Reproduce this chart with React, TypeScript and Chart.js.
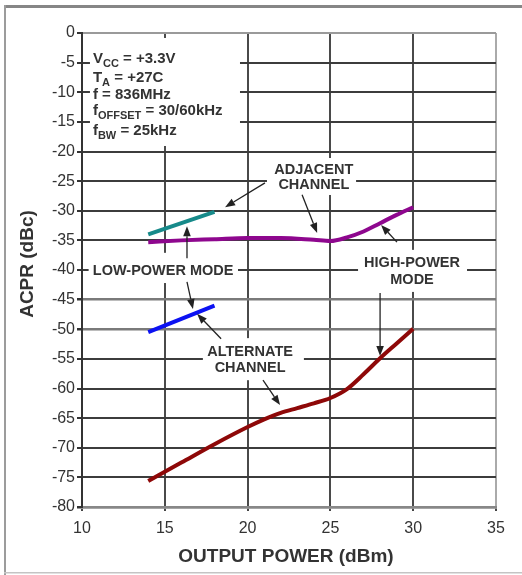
import React, { useEffect, useRef } from 'react';
import { Chart, registerables } from 'chart.js';

Chart.register(...registerables);

// ---- data ----
const xTickValues = [10, 15, 20, 25, 30, 35];
const yTickValues = [0, -5, -10, -15, -20, -25, -30, -35, -40, -45, -50, -55, -60, -65, -70, -75, -80];

const adjLowX = [14, 18];
const adjLowY = [-34, -30.2];

const altLowX = [14, 18];
const altLowY = [-50.5, -46];

const adjHighX = [14, 16, 18, 20, 22, 24, 25, 26, 27, 28, 29, 30];
const adjHighY = [-35.3, -35.0, -34.8, -34.6, -34.6, -34.9, -35.1, -34.5, -33.5, -32.1, -30.7, -29.4];

const altHighX = [14, 16, 18, 20, 21, 22, 23, 24, 25, 26, 27, 28, 29, 30];
const altHighY = [-75.6, -72.5, -69.4, -66.5, -65.2, -64.1, -63.3, -62.5, -61.6, -60.1, -57.6, -54.9, -52.4, -49.9];

const xTitle = 'OUTPUT POWER (dBm)';
const yTitle = 'ACPR (dBc)';

const infoLines: [string, string, string][] = [
  ['V', 'CC', ' = +3.3V'],
  ['T', 'A', ' = +27C'],
  ['f = 836MHz', '', ''],
  ['f', 'OFFSET', ' = 30/60kHz'],
  ['f', 'BW', ' = 25kHz'],
];

const labelTexts = [
  ['ADJACENT', 'CHANNEL'],
  ['LOW-POWER MODE'],
  ['ALTERNATE', 'CHANNEL'],
  ['HIGH-POWER', 'MODE'],
];

// ---- annotation layout (data units) ----
const infoBox = { x0: 10.48, x1: 19.54, y0: -0.84, y1: -19.07 };
const infoTextX = 10.66;
const infoBaselines = [-5.06, -8.27, -11.14, -13.84, -17.2];

const labelLayout = [
  { cx: 24.0, ys: [-23.1, -25.7], box: { x0: 21.17, x1: 26.55, y0: -21.1, y1: -27.34 } },
  { cx: 14.9, ys: [-40.2], box: { x0: 10.4, x1: 19.42, y0: -37.1, y1: -42.2 } },
  { cx: 20.15, ys: [-53.8, -56.6], box: { x0: 17.3, x1: 23.4, y0: -51.5, y1: -58.6 } },
  { cx: 29.93, ys: [-38.8, -41.7], box: { x0: 26.67, x1: 33.25, y0: -36.6, y1: -43.7 } },
];

const arrows = [
  [21.05, -25.3, 18.64, -29.4],
  [23.29, -27.3, 24.2, -33.75],
  [16.34, -38.0, 16.34, -32.6],
  [16.34, -42.0, 16.7, -46.6],
  [18.4, -51.6, 16.95, -47.4],
  [20.93, -58.6, 21.96, -62.8],
  [29.02, -35.3, 28.06, -32.4],
  [28.0, -43.9, 28.0, -54.5],
];

const FONT = "'Liberation Sans', Arial, Helvetica, sans-serif";

function toPts(xs: number[], ys: number[]) {
  return xs.map((x, i) => ({ x, y: ys[i] }));
}

const annotPlugin = {
  id: 'annot',
  beforeDraw(chart: any) {
    const ctx = chart.ctx;
    ctx.save();
    ctx.fillStyle = '#ffffff';
    ctx.fillRect(0, 0, chart.width, chart.height);
    ctx.fillStyle = '#868686';
    ctx.fillRect(4, 5, chart.width - 4, 3);
    ctx.fillStyle = '#9c9c9c';
    ctx.fillRect(4, 5, 2, chart.height - 5);
    ctx.fillStyle = '#c4c4c4';
    ctx.fillRect(4, 572, chart.width - 4, 1.5);
    ctx.restore();
  },
  beforeDatasetsDraw(chart: any) {
    const ctx = chart.ctx;
    const xs = chart.scales.x;
    const ys = chart.scales.y;
    const rect = (b: any) => {
      const l = xs.getPixelForValue(b.x0);
      const r = xs.getPixelForValue(b.x1);
      const t = ys.getPixelForValue(b.y0);
      const bt = ys.getPixelForValue(b.y1);
      ctx.fillRect(l, t, r - l, bt - t);
    };
    ctx.save();
    ctx.fillStyle = '#ffffff';
    rect(infoBox);
    labelLayout.forEach((l) => rect(l.box));
    ctx.restore();
  },
  afterDatasetsDraw(chart: any) {
    const ctx = chart.ctx;
    const xs = chart.scales.x;
    const ys = chart.scales.y;
    const px = (v: number) => xs.getPixelForValue(v);
    const py = (v: number) => ys.getPixelForValue(v);
    ctx.save();
    ctx.fillStyle = '#333333';
    // info text
    infoLines.forEach((ln, i) => {
      let x = px(infoTextX);
      const y = py(infoBaselines[i]);
      ctx.textAlign = 'left';
      ctx.textBaseline = 'alphabetic';
      ctx.font = `bold 15px ${FONT}`;
      ctx.fillText(ln[0], x, y);
      x += ctx.measureText(ln[0]).width;
      if (ln[1]) {
        ctx.font = `bold 11px ${FONT}`;
        ctx.fillText(ln[1], x, y + 4);
        x += ctx.measureText(ln[1]).width;
      }
      if (ln[2]) {
        ctx.font = `bold 15px ${FONT}`;
        ctx.fillText(ln[2], x, y);
      }
    });
    // labels
    ctx.font = `bold 14.5px ${FONT}`;
    ctx.textAlign = 'center';
    ctx.textBaseline = 'middle';
    labelLayout.forEach((l, i) => {
      labelTexts[i].forEach((t, j) => {
        ctx.fillText(t, px(l.cx), py(l.ys[j]));
      });
    });
    // arrows
    ctx.strokeStyle = '#222222';
    ctx.fillStyle = '#222222';
    ctx.lineWidth = 1.3;
    arrows.forEach((a) => {
      const x0 = px(a[0]), y0 = py(a[1]), x1 = px(a[2]), y1 = py(a[3]);
      const ang = Math.atan2(y1 - y0, x1 - x0);
      const len = 10, hw = 3.8;
      const bx = x1 - len * Math.cos(ang);
      const by = y1 - len * Math.sin(ang);
      ctx.beginPath();
      ctx.moveTo(x0, y0);
      ctx.lineTo(bx, by);
      ctx.stroke();
      ctx.beginPath();
      ctx.moveTo(x1, y1);
      ctx.lineTo(bx + hw * Math.sin(ang), by - hw * Math.cos(ang));
      ctx.lineTo(bx - hw * Math.sin(ang), by + hw * Math.cos(ang));
      ctx.closePath();
      ctx.fill();
    });
    // axis titles
    ctx.fillStyle = '#333333';
    ctx.font = `bold 19px ${FONT}`;
    ctx.textAlign = 'center';
    ctx.textBaseline = 'middle';
    const ca = chart.chartArea;
    ctx.fillText(xTitle, (ca.left + ca.right) / 2 - 3, 557);
    ctx.save();
    ctx.translate(27.5, (ca.top + ca.bottom) / 2 - 6);
    ctx.rotate(-Math.PI / 2);
    ctx.fillText(yTitle, 0, 0);
    ctx.restore();
    ctx.restore();
  },
};

export default function App() {
  const ref = useRef<HTMLCanvasElement | null>(null);
  useEffect(() => {
    if (!ref.current) return;
    const yGridColor = (c: any) => {
      const v = c.tick && c.tick.value;
      if (v === 0) return '#9a9a9a';
      if (v === -80) return '#8a8a8a';
      if (v === -45 || v === -50) return '#7a7a7a';
      return '#3c3c3c';
    };
    const yGridWidth = (c: any) => {
      const v = c.tick && c.tick.value;
      if (v === -45 || v === -50 || v === -80) return 2.5;
      return 2;
    };
    const xGridColor = (c: any) => {
      const v = c.tick && c.tick.value;
      if (v === 35) return '#aaaaaa';
      return '#4a4a4a';
    };
    const chart = new Chart(ref.current, {
      type: 'line',
      data: {
        datasets: [
          { data: toPts(adjHighX, adjHighY), borderColor: '#8e078e', borderWidth: 4, pointRadius: 0, tension: 0.4, cubicInterpolationMode: 'monotone', fill: false },
          { data: toPts(altHighX, altHighY), borderColor: '#8e0808', borderWidth: 4, pointRadius: 0, tension: 0.4, cubicInterpolationMode: 'monotone', fill: false },
          { data: toPts(adjLowX, adjLowY), borderColor: '#178a8a', borderWidth: 4, pointRadius: 0, fill: false },
          { data: toPts(altLowX, altLowY), borderColor: '#0c12f2', borderWidth: 4, pointRadius: 0, fill: false },
        ] as any,
      },
      options: {
        animation: false,
        responsive: false,
        devicePixelRatio: 1,
        layout: { padding: { top: 33, right: 26, left: 0, bottom: 0 } },
        plugins: { legend: { display: false }, tooltip: { enabled: false } },
        scales: {
          x: {
            type: 'linear',
            min: 10,
            max: 35,
            afterFit: (s: any) => { s.height = 68; },
            afterBuildTicks: (s: any) => { s.ticks = xTickValues.map((v) => ({ value: v })); },
            grid: { color: xGridColor, lineWidth: 2, tickLength: 4, tickColor: '#444', drawTicks: true },
            border: { display: true, color: '#888888', width: 2.5 },
            ticks: { color: '#333', font: { size: 16, family: FONT }, padding: 8, maxRotation: 0, autoSkip: false },
          },
          y: {
            type: 'linear',
            min: -80,
            max: 0,
            afterFit: (s: any) => { s.width = 82; },
            afterBuildTicks: (s: any) => { s.ticks = yTickValues.map((v) => ({ value: v })); },
            grid: { color: yGridColor, lineWidth: yGridWidth, tickLength: 5, tickColor: '#333', drawTicks: true },
            border: { display: true, color: '#333333', width: 2 },
            ticks: { color: '#333', font: { size: 16, family: FONT }, padding: 2, autoSkip: false },
          },
        },
      } as any,
      plugins: [annotPlugin],
    });
    return () => chart.destroy();
  }, []);
  return (
    <div style={{ position: 'absolute', left: 0, top: 0, width: 522, height: 575 }}>
      <canvas ref={ref} width={522} height={575} />
    </div>
  );
}
